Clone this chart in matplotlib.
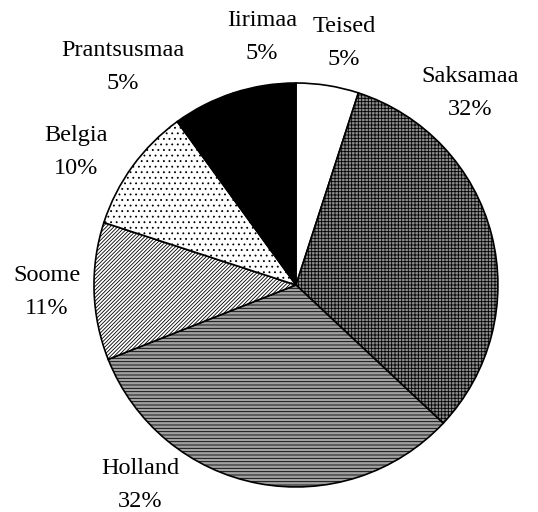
import matplotlib
matplotlib.use("Agg")
import matplotlib.pyplot as plt

# andmed (kellaosuti suunas, alates ülevalt)
riigid = ["Teised", "Saksamaa", "Holland", "Soome", "Belgia", "Prantsusmaa", "Iirimaa"]
osakaal = [5, 32, 32, 11, 10, 5, 5]

# sektorite välimus
taustad = ["white", "#8c8c8c", "#a0a0a0", "white", "white", "black", "black"]
viirud = [None, "+++++", "-----", "/////////", "...", None, None]

# siltide asukohad (raadiuse ühikutes)
sildi_xy = [(0.238, 1.198), (0.861, 0.950), (-0.772, -0.990), (-1.233, -0.035),
            (-1.089, 0.658), (-0.856, 1.079), (-0.168, 1.228)]

plt.rcParams["hatch.linewidth"] = 0.6

fig = plt.figure(figsize=(5.38, 5.12), dpi=100)
ax = fig.add_axes([0, 0, 1, 1])

wedges, _ = ax.pie(osakaal, startangle=90, counterclock=False, radius=1,
                   colors=taustad,
                   wedgeprops=dict(edgecolor="black", linewidth=1.2))
for w, h in zip(wedges, viirud):
    if h:
        w.set_hatch(h)

for nimi, p, (x, y) in zip(riigid, osakaal, sildi_xy):
    ax.text(x, y, f"{nimi}\n{p}%", ha="center", va="center",
            fontsize=17.5, family="Liberation Serif", linespacing=1.72)

ax.set_xlim(-1.465, 1.198)
ax.set_ylim(-1.124, 1.411)
ax.set_aspect("equal")
ax.axis("off")

fig.savefig("out.png", dpi=100)
